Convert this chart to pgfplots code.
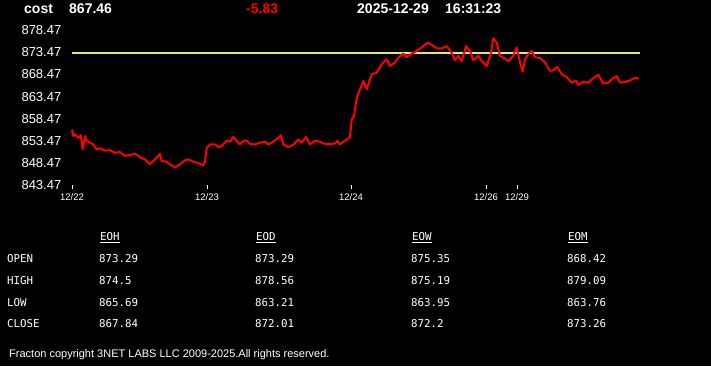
\documentclass[border=0pt]{standalone}
\usepackage{pgfplots}
\pgfplotsset{compat=1.18}
\usepackage{fontspec}
\setmainfont{Liberation Sans}
\newfontfamily\monof{DejaVu Sans Mono}
\definecolor{lim}{RGB}{222,230,128}
\begin{document}
\begin{tikzpicture}[x=1bp,y=1bp]
\fill[black] (0,0) rectangle (711,366);
\begin{axis}[
  at={(72bp,181.3bp)}, anchor=south west,
  scale only axis, width=568bp, height=154.3bp,
  xmin=72, xmax=640, ymin=843.47, ymax=878.47,
  axis line style={draw=none},
  clip=false,
  tick align=outside, major tick length=4.5bp,
  xtick={72,207,351,486,517},
  xticklabels={12/22,12/23,12/24,12/26,12/29},
  xtick pos=bottom,
  xtick style={white, line width=0.9bp},
  xticklabel style={text=white, font=\fontsize{9.5bp}{11bp}\selectfont, inner sep=0pt, anchor=north, yshift=-4.5bp},
  ytick={843.47,848.47,853.47,858.47,863.47,868.47,873.47,878.47},
  ytick pos=left,
  ytick style={draw=none},
  yticklabel={\pgfmathprintnumber[fixed,fixed zerofill,precision=2,assume math mode=true]{\tick}},
  yticklabel style={text=white, font=\fontsize{13bp}{15bp}\selectfont, inner sep=0pt, anchor=east, xshift=-6bp},
]
\addplot[lim, line width=2bp] coordinates {(72,873.3) (640,873.3)};
\addplot[red, line width=2bp, line join=round] coordinates {
(72,856.0)(73.3,854.5)(75,854.9)(78.3,854.1)(80.7,854.7)(82.7,851.5)(85,854.5)(86.7,853.4)(90,853.0)(93.3,852.6)(96.7,851.5)(100,851.7)(105,851.2)(110,851.3)(115,850.7)(120,850.9)(125,850.0)(130,850.2)(135,850.5)(140,849.7)(145,849.2)(150,848.1)(155,849.2)(160,850.5)(161.7,848.8)(166.7,848.7)(170,848.1)(175,847.4)(180,848.1)(185,849.0)(188.3,849.2)(193.3,848.7)(198.3,848.4)(203.3,847.9)(205,848.8)(206.7,851.8)(210,852.6)(215,852.6)(218.3,852.0)(221.7,852.2)(226.7,853.5)(230,853.2)(233.3,854.3)(236.7,853.4)(240,852.6)(243.3,853.4)(246.7,853.5)(250,852.7)(255,852.6)(260,853.0)(265,853.2)(268.3,852.6)(273.3,853.2)(278.3,854.1)(280.7,854.7)(283.3,852.6)(288.3,852.0)(293.3,852.5)(298.3,853.7)(301.7,853.0)(306,854.3)(310,852.6)(315,853.5)(320,853.2)(325,852.7)(330,852.7)(335,852.8)(337.3,853.4)(340,852.6)(343.3,853.2)(346.7,853.7)(350,854.3)(351.7,858.3)(354,859.0)(356.7,863.2)(359.3,864.7)(363.3,867.0)(366.7,865.1)(371.7,868.5)(376.7,868.9)(381.7,870.8)(386.7,871.9)(390,870.4)(395,871.2)(398.3,872.3)(403.3,873.2)(406.7,872.4)(411.7,873.2)(416.7,873.8)(421.7,874.6)(427.3,875.7)(431.7,875.2)(436.7,874.4)(441.7,874.4)(446.7,874.9)(451.7,873.4)(455,871.7)(458.3,872.7)(461.7,871.5)(466,874.9)(470,873.8)(473.3,871.7)(478.3,872.7)(481.7,871.5)(486.7,870.4)(490.7,873.1)(493.3,876.7)(496.7,875.7)(500,872.7)(503.3,872.3)(508.3,871.5)(513.3,872.7)(516.7,874.6)(520,871.2)(522.7,869.1)(525,871.9)(528.3,873.1)(531.7,873.8)(535,872.4)(540,872.2)(545,871.2)(550,869.3)(553.3,869.4)(557.3,870.2)(561.7,868.5)(566.7,867.9)(571.7,866.6)(576,867.1)(578.3,866.1)(583.3,866.8)(588.3,866.6)(593.3,867.6)(598.3,868.4)(603.3,866.4)(608.3,866.6)(613.3,867.7)(616.7,868.1)(620,866.6)(625,866.8)(630,867.1)(634,867.6)(637.3,867.7)(638.3,867.4)};
\end{axis}
% header
\begin{scope}[every node/.style={inner sep=0pt, anchor=west, font=\fontsize{14bp}{16bp}\selectfont\bfseries, text=white}]
\node at (24,357) {cost};
\node at (69,357) {867.46};
\node[text=red] at (246,357) {-5.83};
\node at (357,357) {2025-12-29};
\node at (445,357) {16:31:23};
\end{scope}
% table
\begin{scope}[every node/.style={inner sep=0pt, anchor=west, font=\monof\fontsize{10.8bp}{12bp}\selectfont, text=white}]
\node at (100,128) {\underline{EOH}};
\node at (256,128) {\underline{EOD}};
\node at (412,128) {\underline{EOW}};
\node at (568,128) {\underline{EOM}};
\node at (7,107) {OPEN};
\node at (7,85) {HIGH};
\node at (7,63) {LOW};
\node at (7,42) {CLOSE};
\node at (99,107) {873.29}; \node at (255,107) {873.29}; \node at (411,107) {875.35}; \node at (567,107) {868.42};
\node at (99,85) {874.5};   \node at (255,85) {878.56};  \node at (411,85) {875.19};  \node at (567,85) {879.09};
\node at (99,63) {865.69};  \node at (255,63) {863.21};  \node at (411,63) {863.95};  \node at (567,63) {863.76};
\node at (99,42) {867.84};  \node at (255,42) {872.01};  \node at (411,42) {872.2};   \node at (567,42) {873.26};
\end{scope}
\node[inner sep=0pt, anchor=west, text=white, font=\fontsize{11bp}{13bp}\selectfont] at (9,11) {Fracton copyright 3NET LABS LLC 2009-2025.All rights reserved.};
\end{tikzpicture}
\end{document}
